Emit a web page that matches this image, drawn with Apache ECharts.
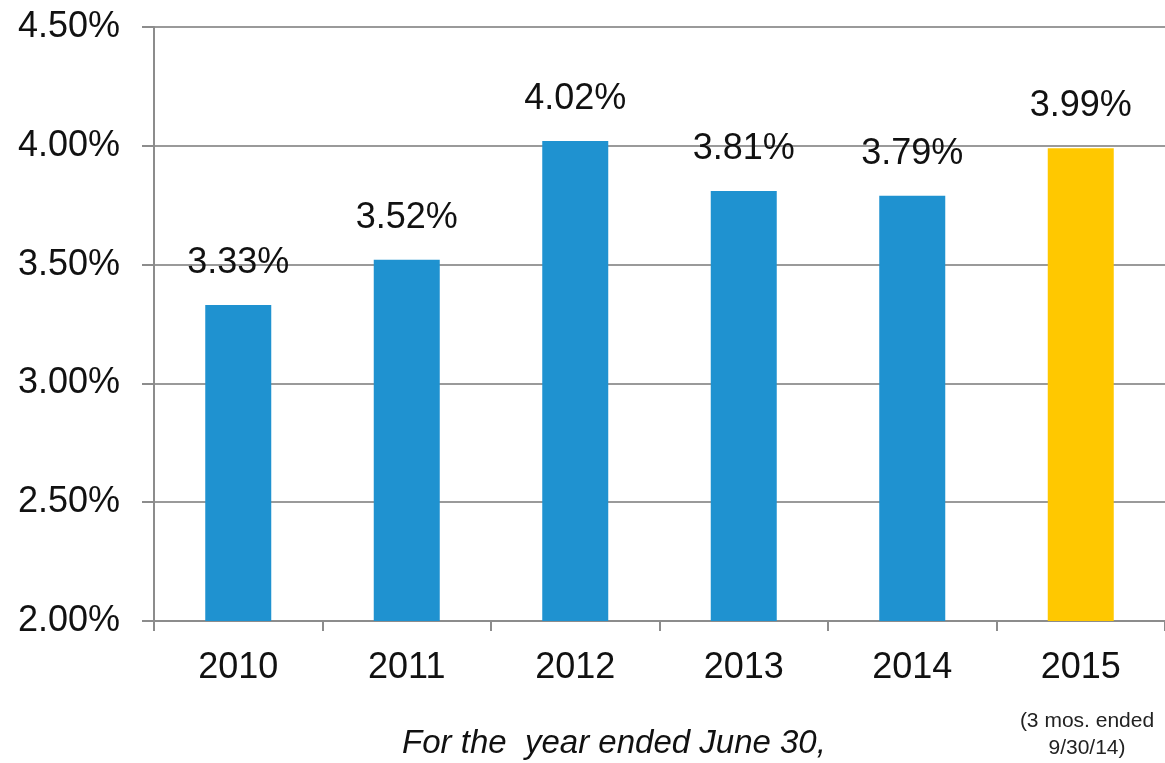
<!DOCTYPE html>
<html>
<head>
<meta charset="utf-8">
<script src="https://cdn.jsdelivr.net/npm/echarts@6/dist/echarts.min.js"></script>
<style>
	html, body { margin: 0; padding: 0; background: #fff; }
	#chart { width: 1165px; height: 763px; }
</style>
</head>
<body>
<div id="chart"></div>
<script>
var years = ['2010', '2011', '2012', '2013', '2014', '2015'];
var rates = [3.33, 3.52, 4.02, 3.81, 3.79, 3.99];
var barColors = ['#1f92d0', '#1f92d0', '#1f92d0', '#1f92d0', '#1f92d0', '#ffc800'];
var yTicks = [2.0, 2.5, 3.0, 3.5, 4.0, 4.5];
var xTitle = 'For the  year ended June 30,';
var note = '(3 mos. ended\n9/30/14)';

var font = 'Arial, "Liberation Sans", sans-serif';
var mychart = echarts.init(document.getElementById('chart'));

var seriesData = [];
for (var i = 0; i < rates.length; i++) {
	seriesData.push({
		value : rates[i],
		itemStyle : { color : barColors[i] }
	});
}

var option = {
	backgroundColor : '#FFFFFF',
	animation : false,
	title : [ {
		text : xTitle,
		left : 609,
		top : 722,
		textAlign : 'center',
		textStyle : { fontFamily : font, fontSize : 33, fontStyle : 'italic', fontWeight : 'normal', color : '#111' }
	}, {
		text : note,
		left : 1082,
		top : 703,
		textAlign : 'center',
		textStyle : { fontFamily : font, fontSize : 21, fontWeight : 'normal', color : '#222', lineHeight : 27 }
	} ],
	grid : {
		left : 154,
		right : -6,
		top : 27,
		bottom : 142,
		containLabel : false
	},
	xAxis : [ {
		type : 'category',
		data : years,
		axisLine : { lineStyle : { color : '#8c8c8c', width : 2 } },
		axisTick : { show : true, length : 10, lineStyle : { color : '#8c8c8c', width : 2 } },
		axisLabel : { fontFamily : font, fontSize : 36, color : '#111', margin : 29 }
	} ],
	yAxis : [ {
		type : 'value',
		min : yTicks[0],
		max : yTicks[yTicks.length - 1],
		interval : 0.5,
		axisLine : { show : true, lineStyle : { color : '#8c8c8c', width : 2 } },
		axisTick : { show : true, length : 12, lineStyle : { color : '#8c8c8c', width : 2 } },
		splitLine : { lineStyle : { color : '#9a9a9a', width : 2 } },
		axisLabel : {
			fontFamily : font, fontSize : 36, color : '#111', margin : 34,
			formatter : function(v) { return v.toFixed(2) + '%'; }
		}
	} ],
	series : [ {
		type : 'bar',
		barWidth : 66,
		data : seriesData,
		label : {
			show : true,
			position : 'top',
			distance : 24,
			fontFamily : font,
			fontSize : 36,
			color : '#111',
			formatter : function(p) { return p.value.toFixed(2) + '%'; }
		}
	} ]
};
mychart.setOption(option);
</script>
</body>
</html>
